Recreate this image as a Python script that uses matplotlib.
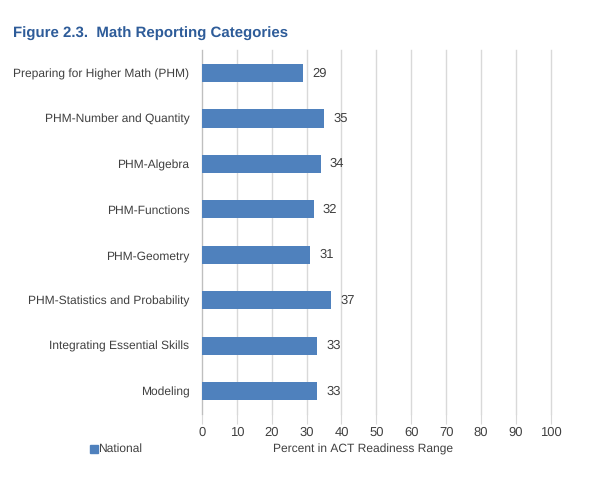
import numpy as np
import matplotlib.pyplot as plt

categories = [
    "Preparing for Higher Math (PHM)",
    "PHM-Number and Quantity",
    "PHM-Algebra",
    "PHM-Functions",
    "PHM-Geometry",
    "PHM-Statistics and Probability",
    "Integrating Essential Skills",
    "Modeling",
]
national = [29, 35, 34, 32, 31, 37, 33, 33]
x_ticks = [0, 10, 20, 30, 40, 50, 60, 70, 80, 90, 100]

plt.rcParams["font.family"] = ["Liberation Sans", "DejaVu Sans"]
plt.rcParams["text.hinting"] = "no_hinting"
plt.rcParams["text.hinting_factor"] = 1

text_color = "#404040"
bar_color = "#4F81BD"
fs = 8.9

fig = plt.figure(figsize=(6.08, 4.94), dpi=100)
ax = fig.add_axes([0.332, 0.1625, 0.574, 0.7355])

y = np.arange(len(categories))
ax.barh(y, national, height=0.4, color=bar_color, zorder=3)

for yi, v in zip(y, national):
    ax.text(v + 2.7, yi, f"{v}", va="center", ha="left",
            fontsize=fs + 0.3, color=text_color)

ax.set_ylim(len(categories) - 0.5, -0.5)
ax.set_xlim(0, 100)
ax.set_yticks(y)
ax.set_yticklabels(categories, fontsize=fs, color=text_color)
ax.set_xticks(x_ticks)
ax.set_xticklabels([str(t) for t in x_ticks], fontsize=fs + 0.3, color=text_color)

ax.grid(axis="x", color="#D9D9D9", linewidth=1.0, zorder=0)
for gl in ax.get_xgridlines():
    gl.set_clip_on(False)
for s in ["top", "right", "bottom"]:
    ax.spines[s].set_visible(False)
ax.spines["left"].set_color("#BFBFBF")
ax.tick_params(axis="y", length=0, pad=9)
ax.tick_params(axis="x", length=7, color="#D9D9D9", pad=2)

fig.text(0.022, 0.931, "Figure 2.3.  Math Reporting Categories",
         fontsize=10.85, fontweight="bold", color="#2E5C99", va="center")

fig.text(0.597, 0.091, "Percent in ACT Readiness Range", fontsize=fs,
         color=text_color, ha="center", va="center")

# legend
fig.patches.append(plt.Rectangle((0.148, 0.084), 0.0125, 0.015,
                                 transform=fig.transFigure, color=bar_color))
fig.text(0.162, 0.091, "National", fontsize=fs, color=text_color, va="center")

plt.savefig("out.png", dpi=100)
